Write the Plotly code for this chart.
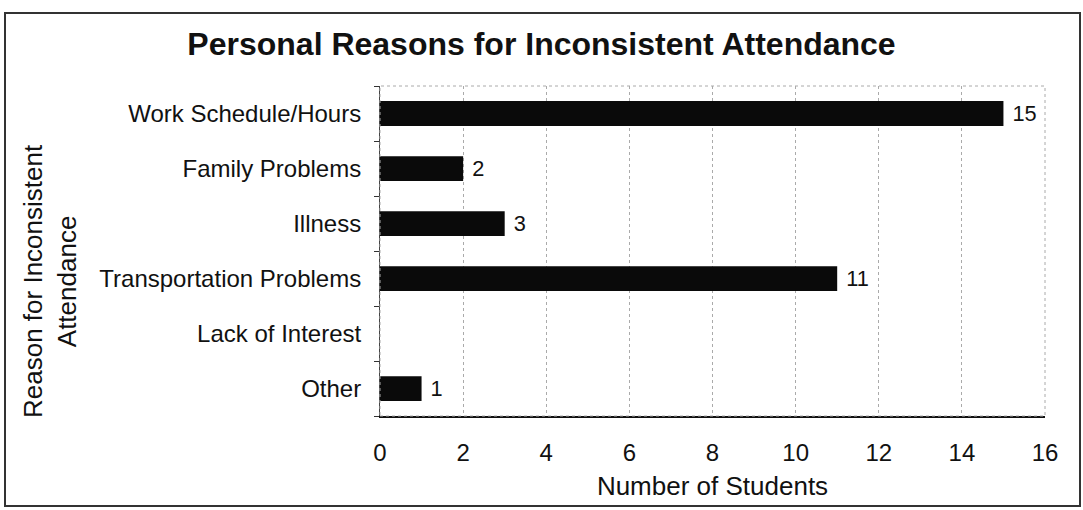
import plotly.graph_objects as go

categories = ["Work Schedule/Hours", "Family Problems", "Illness",
              "Transportation Problems", "Lack of Interest", "Other"]
values = [15, 2, 3, 11, None, 1]
labels = ["15", "2", "3", "11", "", "1"]
x_ticks = [0, 2, 4, 6, 8, 10, 12, 14, 16]

font = "Liberation Sans, Arial, sans-serif"

L, R, T, B = 380, 1045, 86, 416
PW, PH = R - L, B - T

fig = go.Figure(go.Bar(
    y=categories, x=values, orientation="h",
    marker=dict(color="#0a0a0a", line=dict(width=0)),
    width=0.45,
    text=[(" " + t) if t else "" for t in labels], textposition="outside",
    textfont=dict(family=font, size=22, color="#111"),
    cliponaxis=False,
))

fig.update_layout(
    width=1083, height=510,
    margin=dict(l=L, r=1083 - R, t=T, b=510 - B, autoexpand=False),
    paper_bgcolor="white", plot_bgcolor="white",
    showlegend=False,
    title=dict(text="<b>Personal Reasons for Inconsistent Attendance</b>",
               x=0.5, xref="container", xanchor="center",
               y=1 - 44 / 510, yref="container", yanchor="middle",
               font=dict(family=font, size=32, color="#111")),
    xaxis=dict(range=[0, 16], tickvals=x_ticks, showgrid=True,
               gridcolor="#aaaaaa", griddash="dot", gridwidth=1,
               showline=True, linecolor="#111", linewidth=2,
               ticks="", ticklabelstandoff=14, automargin=False,
               tickfont=dict(family=font, size=24, color="#111"),
               title=dict(text="Number of Students", standoff=12,
                          font=dict(family=font, size=26, color="#111")),
               zeroline=False, mirror=False),
    yaxis=dict(categoryorder="array", categoryarray=categories[::-1],
               autorange=False, range=[-0.5, 5.5], automargin=False,
               showline=True, linecolor="#444", linewidth=1,
               ticks="outside", ticklen=5, tickcolor="#333", tickson="boundaries",
               ticklabelstandoff=13,
               tickfont=dict(family=font, size=24, color="#111"),
               showgrid=False, zeroline=False),
    shapes=[
        dict(type="rect", xref="paper", yref="paper", x0=0, x1=1, y0=0, y1=1,
             line=dict(color="#aaaaaa", width=1, dash="dot")),
        dict(type="rect", xref="paper", yref="paper",
             x0=(5 - L) / PW, x1=(1080 - L) / PW,
             y0=(B - 506) / PH, y1=(B - 13) / PH,
             line=dict(color="#333", width=2)),
    ],
    annotations=[
        dict(text="Reason for Inconsistent<br>Attendance", textangle=-90,
             xref="paper", yref="paper", x=(50 - L) / PW, y=(B - 281) / PH,
             xanchor="center", yanchor="middle", showarrow=False,
             font=dict(family=font, size=26, color="#111")),
    ],
)

fig.write_html("out.html", config={"displayModeBar": False},
               post_script="document.body.style.margin='0';document.body.style.overflow='hidden';")
